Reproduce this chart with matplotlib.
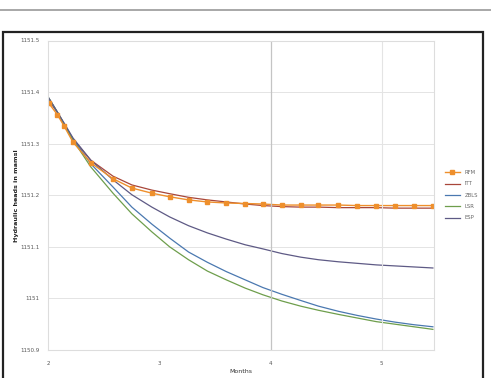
import matplotlib
matplotlib.use("Agg")
import matplotlib.pyplot as plt
from matplotlib.patches import Rectangle
from matplotlib.lines import Line2D

# time in months
months = [2.0, 2.08, 2.14, 2.22, 2.38, 2.58, 2.75, 2.93, 3.09, 3.26, 3.43, 3.60,
          3.77, 3.93, 4.10, 4.27, 4.43, 4.61, 4.78, 4.95, 5.12, 5.29, 5.46]

rfm = [1151.379, 1151.356, 1151.334, 1151.303, 1151.263, 1151.232, 1151.214,
       1151.204, 1151.197, 1151.191, 1151.187, 1151.185, 1151.184, 1151.183,
       1151.181, 1151.181, 1151.181, 1151.181, 1151.180, 1151.180, 1151.180,
       1151.180, 1151.180]
itt = [1151.385, 1151.360, 1151.338, 1151.309, 1151.268, 1151.237, 1151.220,
       1151.210, 1151.203, 1151.196, 1151.191, 1151.187, 1151.183, 1151.180,
       1151.178, 1151.177, 1151.177, 1151.176, 1151.176, 1151.176, 1151.175,
       1151.175, 1151.175]
zbls = [1151.389, 1151.361, 1151.338, 1151.309, 1151.261, 1151.216, 1151.177,
        1151.144, 1151.117, 1151.090, 1151.070, 1151.052, 1151.036, 1151.021,
        1151.008, 1150.996, 1150.985, 1150.975, 1150.967, 1150.960, 1150.954,
        1150.949, 1150.945]
lsr = [1151.389, 1151.361, 1151.338, 1151.307, 1151.255, 1151.204, 1151.164,
       1151.129, 1151.100, 1151.075, 1151.053, 1151.036, 1151.020, 1151.007,
       1150.995, 1150.985, 1150.977, 1150.969, 1150.962, 1150.955, 1150.950,
       1150.945, 1150.940]
esp = [1151.389, 1151.361, 1151.340, 1151.311, 1151.268, 1151.230, 1151.201,
       1151.177, 1151.158, 1151.141, 1151.127, 1151.115, 1151.104, 1151.096,
       1151.087, 1151.080, 1151.075, 1151.071, 1151.068, 1151.065, 1151.063,
       1151.061, 1151.059]

yticks = [1150.9, 1151.0, 1151.1, 1151.2, 1151.3, 1151.4, 1151.5]
ytick_labels = ["1150.9", "1151", "1151.1", "1151.2", "1151.3", "1151.4", "1151.5"]
xticks = [2, 3, 4, 5]

fig = plt.figure(figsize=(4.91, 3.78), dpi=100)
ax = fig.add_axes([48 / 491, 1 - 350 / 378, 386 / 491, 309.5 / 378])

# outer frame and top rule
fig.add_artist(Line2D([0, 1], [1 - 10 / 378] * 2, transform=fig.transFigure,
                      color="#9a9a9a", lw=1.2))
fig.add_artist(Rectangle((3 / 491, -0.05), 480 / 491, 0.05 + 1 - 32 / 378,
                         transform=fig.transFigure, fill=False,
                         edgecolor="#222222", lw=1.6))

ax.plot(months, itt, color="#a8463a", lw=0.9, label="ITT")
ax.plot(months, zbls, color="#4a78b0", lw=0.9, label="ZBLS")
ax.plot(months, lsr, color="#6e9e4c", lw=0.9, label="LSR")
ax.plot(months, esp, color="#5e5a85", lw=0.9, label="ESP")
ax.plot(months, rfm, color="#ee8f2c", lw=1.0, marker="s", markersize=2.8,
        label="RFM")

ax.set_xlim(1.995, 5.47)
ax.set_ylim(1150.9, 1151.5)
ax.set_yticks(yticks)
ax.set_yticklabels(ytick_labels)
ax.set_xticks(xticks)
ax.tick_params(axis="both", length=0, labelsize=4, colors="#555555")
ax.tick_params(axis="x", pad=8)
ax.tick_params(axis="y", pad=6)

ax.grid(axis="y", color="#e4e4e4", lw=0.7)
ax.axvline(4, color="#c4c4c4", lw=0.9)
ax.axvline(5, color="#e4e4e4", lw=0.8)
for s in ax.spines.values():
    s.set_color("#dddddd")
    s.set_linewidth(0.8)

ax.set_xlabel("Months", fontsize=4.5, color="#333333", labelpad=2)
ax.set_ylabel("Hydraulic heads in mamsl", fontsize=4.6, fontweight="bold",
              color="#222222")
ax.yaxis.set_label_coords(-0.075, 0.5)

handles, labels = ax.get_legend_handles_labels()
order = [4, 0, 1, 2, 3]
ax.legend([handles[i] for i in order], [labels[i] for i in order],
          loc="center left", bbox_to_anchor=(1.015, 0.5), frameon=False,
          fontsize=3.8, handlelength=3, labelspacing=1.2,
          labelcolor="#666666")

fig.savefig("out.png", dpi=100)
